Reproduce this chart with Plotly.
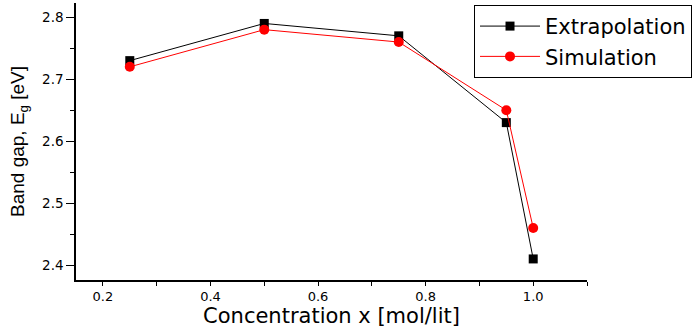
import plotly.graph_objects as go

conc = [0.25, 0.5, 0.75, 0.95, 1.0]
extrapolation = [2.73, 2.79, 2.77, 2.63, 2.41]
simulation = [2.72, 2.78, 2.76, 2.65, 2.46]

fig = go.Figure()
fig.add_trace(go.Scatter(x=conc, y=extrapolation, mode="lines+markers", name="Extrapolation",
                         line=dict(color="black", width=1),
                         marker=dict(symbol="square", size=9, color="black")))
fig.add_trace(go.Scatter(x=conc, y=simulation, mode="lines+markers", name="Simulation",
                         line=dict(color="red", width=1),
                         marker=dict(symbol="circle", size=10, color="red")))

fig.update_layout(
    width=696, height=328,
    margin=dict(l=76, r=109, t=3, b=48),
    paper_bgcolor="white", plot_bgcolor="white",
    font=dict(family="DejaVu Sans", color="black"),
    showlegend=True,
    legend=dict(x=1.2055, xanchor="right", y=0.993, yanchor="top",
                bordercolor="black", borderwidth=1, bgcolor="white",
                font=dict(size=21, family="DejaVu Sans"), tracegroupgap=0, itemwidth=60),
    xaxis=dict(range=[0.15, 1.1], dtick=0.2, tick0=0.2, tickformat=".1f",
               showgrid=False, zeroline=False, showline=True, linecolor="black", linewidth=1.5,
               ticks="outside", ticklen=4, tickcolor="black", tickwidth=1.2,
               minor=dict(ticks="outside", dtick=0.1, tick0=0.1, ticklen=4, tickcolor="black", tickwidth=1.2),
               tickfont=dict(size=13, family="DejaVu Sans"),
               title=dict(text="Concentration x [mol/lit]", font=dict(size=21, family="DejaVu Sans"), standoff=2)),
    yaxis=dict(range=[2.376, 2.823], dtick=0.1, tick0=2.4, tickformat=".1f",
               showgrid=False, zeroline=False, showline=True, linecolor="black", linewidth=1.5,
               ticks="outside", ticklen=8, tickcolor="black", tickwidth=1.2,
               minor=dict(ticks="outside", dtick=0.05, tick0=2.35, ticklen=4, tickcolor="black", tickwidth=1.2),
               tickfont=dict(size=13.5, family="DejaVu Sans"),
               title=dict(text="Band gap, E<sub>g</sub> [eV]",
                          font=dict(size=19, family="Liberation Sans"), standoff=12)),
)

fig.write_html("out.html")
